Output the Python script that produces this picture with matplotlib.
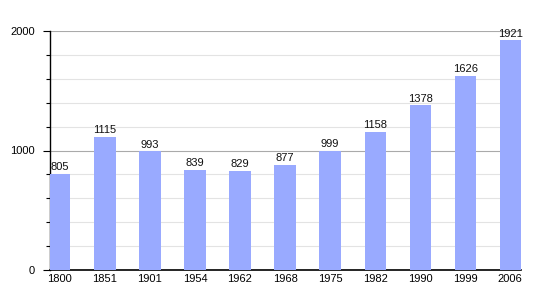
import matplotlib
matplotlib.use("Agg")
import matplotlib.pyplot as plt
from matplotlib.ticker import MultipleLocator

plt.rcParams['font.family'] = ['Liberation Sans', 'DejaVu Sans']

years = ["1800", "1851", "1901", "1954", "1962", "1968", "1975", "1982", "1990", "1999", "2006"]
population = [805, 1115, 993, 839, 829, 877, 999, 1158, 1378, 1626, 1921]

fig = plt.figure(figsize=(5.5, 3.0), dpi=100)
ax = fig.add_axes([50/550, 30/300, 471/550, 239/300])

x = list(range(len(years)))
ax.bar(x, population, width=0.47, color="#99aaff", zorder=3)
for xi, v in zip(x, population):
    ax.text(xi, v + 15, str(v), ha="center", va="bottom", fontsize=8, color="#111111", zorder=4)

ax.set_xlim(-0.22, 10.24)
ax.set_ylim(0, 2000)
ax.set_xticks(x)
ax.set_xticklabels(years, fontsize=8)
ax.set_yticks([0, 1000, 2000])
ax.set_yticklabels(["0", "1000", "2000"], fontsize=8)
ax.yaxis.set_minor_locator(MultipleLocator(200))
ax.tick_params(axis="x", length=0, pad=3)
ax.tick_params(axis="y", which="major", length=5, width=0.8, pad=6)
ax.tick_params(axis="y", which="minor", length=3, width=0.8)
ax.grid(axis="y", which="major", color="#aaaaaa", linewidth=0.8, zorder=0)
ax.grid(axis="y", which="minor", color="#e3e3e3", linewidth=0.8, zorder=0)
for s in ["top", "right"]:
    ax.spines[s].set_visible(False)
ax.spines["left"].set_linewidth(1.0)
ax.spines["bottom"].set_linewidth(1.2)

fig.savefig("out.png", dpi=100)
